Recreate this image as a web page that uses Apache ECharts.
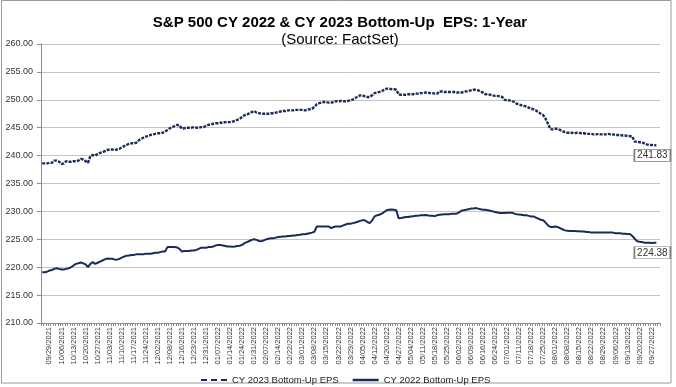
<!DOCTYPE html>
<html><head><meta charset="utf-8">
<script src="https://cdn.jsdelivr.net/npm/echarts@6/dist/echarts.min.js"></script>
<style>html,body{margin:0;padding:0;background:#fff}#c{width:676px;height:387px}</style>
</head><body><div id="c"></div>
<script>
var tickLabels = ['09/29/2021','10/06/2021','10/13/2021','10/20/2021','10/27/2021','11/03/2021','11/10/2021','11/17/2021','11/24/2021','12/02/2021','12/08/2021','12/16/2021','12/23/2021','12/31/2021','01/07/2022','01/14/2022','01/24/2022','01/31/2022','02/07/2022','02/14/2022','02/22/2022','03/01/2022','03/08/2022','03/15/2022','03/22/2022','03/29/2022','04/05/2022','04/12/2022','04/20/2022','04/27/2022','05/04/2022','05/11/2022','05/18/2022','05/25/2022','06/02/2022','06/09/2022','06/16/2022','06/24/2022','07/01/2022','07/11/2022','07/18/2022','07/25/2022','08/01/2022','08/08/2022','08/15/2022','08/22/2022','08/29/2022','09/06/2022','09/13/2022','09/20/2022','09/27/2022'];

var cy2023 = [
238.6,238.6,238.6,238.7,238.7,239.1,239.1,238.9,238.5,238.6,
239.0,238.9,238.9,239.0,239.0,239.1,239.4,239.3,239.0,238.7,
239.9,240.1,240.0,240.3,240.5,240.6,240.8,241.0,241.1,241.1,
241.0,241.1,241.2,241.5,241.7,241.9,242.1,242.2,242.2,242.3,
242.7,243.0,243.2,243.4,243.5,243.7,243.8,243.9,244.0,244.0,
244.1,244.3,244.6,244.9,245.1,245.3,245.5,245.4,244.8,244.9,
245.0,245.0,245.0,245.1,245.0,245.0,245.1,245.1,245.3,245.5,
245.6,245.7,245.8,245.8,245.9,245.9,246.0,246.0,246.0,246.1,
246.2,246.4,246.6,246.9,247.25,247.4,247.55,247.8,248.0,247.7,
247.6,247.5,247.5,247.5,247.5,247.6,247.6,247.7,247.8,247.9,
248.0,248.0,248.1,248.1,248.1,248.2,248.2,248.2,248.2,248.1,
248.2,248.3,248.4,248.7,249.2,249.4,249.5,249.6,249.6,249.5,
249.5,249.6,249.75,249.7,249.8,249.75,249.75,249.8,249.9,250.05,
250.3,250.6,250.8,250.8,250.6,250.5,250.5,250.8,251.2,251.3,
251.4,251.55,251.8,252.0,252.0,251.9,251.9,251.8,250.95,250.9,
250.9,250.9,251.0,251.0,251.0,251.1,251.1,251.2,251.2,251.3,
251.3,251.2,251.2,251.1,251.1,251.5,251.5,251.4,251.4,251.4,
251.4,251.4,251.3,251.3,251.3,251.4,251.5,251.6,251.7,251.8,
251.8,251.7,251.5,251.3,251.0,251.0,250.9,250.8,250.7,250.7,
250.6,250.5,250.0,249.9,249.9,249.8,249.6,249.3,249.2,249.0,
248.9,248.8,248.6,248.4,248.3,248.1,247.8,247.5,247.25,246.6,
245.7,244.75,244.7,244.8,244.8,244.6,244.4,244.2,244.1,244.1,
244.1,244.0,244.1,244.05,244.0,244.0,243.9,243.9,243.9,243.8,
243.8,243.9,243.8,243.8,243.8,243.9,243.8,243.8,243.7,243.7,
243.7,243.6,243.6,243.5,243.5,243.4,242.5,242.5,242.4,242.4,
242.2,242.0,241.9,241.9,241.85,241.83];

var cy2022 = [
219.1,219.1,219.2,219.4,219.5,219.7,219.8,219.7,219.6,219.6,
219.7,219.8,220.0,220.3,220.6,220.7,220.85,220.7,220.5,220.0,
220.6,220.9,220.6,220.8,221.0,221.2,221.4,221.55,221.5,221.5,
221.4,221.35,221.5,221.7,221.9,222.05,222.1,222.2,222.2,222.3,
222.3,222.3,222.3,222.4,222.4,222.4,222.5,222.6,222.6,222.7,
222.8,222.8,223.6,223.6,223.6,223.6,223.55,223.3,222.8,222.9,
222.9,222.9,223.0,223.0,223.1,223.3,223.5,223.5,223.5,223.6,
223.6,223.7,223.9,224.0,224.0,223.9,223.8,223.7,223.7,223.65,
223.7,223.8,223.85,224.0,224.3,224.5,224.7,224.9,225.0,224.9,
224.7,224.65,224.8,225.0,225.1,225.2,225.2,225.3,225.4,225.45,
225.5,225.5,225.6,225.6,225.7,225.7,225.75,225.8,225.9,225.9,
226.0,226.1,226.2,226.35,227.3,227.3,227.3,227.3,227.3,227.3,
227.0,227.2,227.3,227.3,227.3,227.5,227.65,227.8,227.8,227.9,
228.0,228.15,228.3,228.4,228.4,228.1,227.9,228.4,229.1,229.3,
229.4,229.6,229.9,230.2,230.3,230.35,230.3,230.2,228.75,228.8,
228.9,229.0,229.0,229.1,229.15,229.2,229.2,229.3,229.3,229.35,
229.3,229.2,229.2,229.15,229.3,229.4,229.45,229.5,229.5,229.5,
229.6,229.6,229.6,229.8,230.1,230.2,230.3,230.4,230.5,230.5,
230.6,230.5,230.4,230.3,230.3,230.2,230.1,230.0,229.9,229.8,
229.7,229.7,229.7,229.75,229.75,229.75,229.6,229.5,229.45,229.4,
229.3,229.3,229.2,229.1,229.1,228.9,228.7,228.5,228.4,228.0,
227.5,227.2,227.2,227.3,227.2,227.0,226.8,226.6,226.55,226.5,
226.5,226.5,226.45,226.45,226.4,226.4,226.3,226.3,226.2,226.2,
226.2,226.2,226.2,226.2,226.2,226.2,226.2,226.2,226.1,226.1,
226.1,226.0,226.0,225.95,225.95,225.6,225.1,224.65,224.55,224.5,
224.4,224.4,224.4,224.35,224.38,224.38];

var yTicks = [210, 215, 220, 225, 230, 235, 240, 245, 250, 255, 260];
var seriesNames = ['CY 2023 Bottom-Up EPS', 'CY 2022 Bottom-Up EPS'];

var N = 257, FIRST = 3, STEP = 5;
var categories = [];
for (var i = 0; i < N; i++) {
  var k = (i - FIRST) / STEP;
  categories.push(i >= FIRST && (i - FIRST) % STEP === 0 && k < tickLabels.length ? tickLabels[k] : 'd' + i);
}
var last23 = cy2023.length - 1, last22 = cy2022.length - 1;
var navy = '#1c2b57';
var font = 'Liberation Sans, Arial, sans-serif';

function endBox(idx, val, dy) {
  return {
    coord: [categories[idx], val],
    symbol: 'rect', symbolSize: [36, 12], symbolOffset: [-4, dy],
    itemStyle: { color: '#fff', borderColor: '#7f7f7f', borderWidth: 1 },
    label: { show: true, position: 'inside', formatter: val.toFixed(2), color: '#333', fontSize: 10, fontFamily: font }
  };
}

var chart = echarts.init(document.getElementById('c'), null, { renderer: 'canvas' });
chart.setOption({
  animation: false,
  backgroundColor: '#fff',
  textStyle: { fontFamily: font },
  title: [
    { text: 'S&P 500 CY 2022 & CY 2023 Bottom-Up  EPS: 1-Year', left: 335, textAlign: 'center', top: 10,
      textStyle: { fontSize: 15, fontWeight: 'bold', color: '#000', fontFamily: font } },
    { text: '(Source: FactSet)', left: 335, textAlign: 'center', top: 27,
      textStyle: { fontSize: 15, fontWeight: 'normal', color: '#000', fontFamily: font } }
  ],
  legend: {
    left: 196, top: 370, itemWidth: 26, itemHeight: 2.5, itemGap: 14,
    textStyle: { fontSize: 9.5, color: '#222', fontFamily: font },
    data: [
      { name: seriesNames[0], icon: 'path://M0,0h6v2h-6z M10,0h6v2h-6z M20,0h6v2h-6z' },
      { name: seriesNames[1], icon: 'rect' }
    ]
  },
  grid: { left: 41, right: 16, top: 44, bottom: 64 },
  xAxis: {
    type: 'category', data: categories, boundaryGap: true,
    axisLine: { lineStyle: { color: '#8c8c8c', width: 1 } },
    axisTick: { show: true, interval: 0, length: 3, lineStyle: { color: '#8c8c8c' } },
    axisLabel: {
      interval: function (i) { return i >= FIRST && (i - FIRST) % STEP === 0 && (i - FIRST) / STEP < tickLabels.length; },
      rotate: 90, fontSize: 7.5, color: '#333', margin: 4, fontFamily: font
    },
    splitLine: { show: false }
  },
  yAxis: {
    type: 'value', min: yTicks[0], max: yTicks[yTicks.length - 1], interval: 5,
    axisLine: { show: true, lineStyle: { color: '#8c8c8c', width: 1 } },
    axisTick: { show: true, length: 4, lineStyle: { color: '#8c8c8c' } },
    axisLabel: { formatter: function (v) { return v.toFixed(2); }, fontSize: 9, color: '#333', margin: 8, fontFamily: font },
    splitLine: { show: true, lineStyle: { color: '#c4c4c4', width: 1 } }
  },
  series: [
    { name: seriesNames[0], type: 'line', data: cy2023, symbol: 'none', smooth: false,
      lineStyle: { color: navy, width: 2.4, type: [3, 1.2] }, itemStyle: { color: navy },
      markPoint: { silent: true, data: [endBox(last23, cy2023[last23], 10)] } },
    { name: seriesNames[1], type: 'line', data: cy2022, symbol: 'none', smooth: false,
      lineStyle: { color: navy, width: 2 }, itemStyle: { color: navy },
      markPoint: { silent: true, data: [endBox(last22, cy2022[last22], 10)] } }
  ],
  graphic: [
    { type: 'rect', shape: { x: 1.5, y: 0.5, width: 669.5, height: 382.5 }, silent: true,
      style: { fill: 'none', stroke: '#9a9a9a', lineWidth: 1 } }
  ]
});
</script></body></html>
